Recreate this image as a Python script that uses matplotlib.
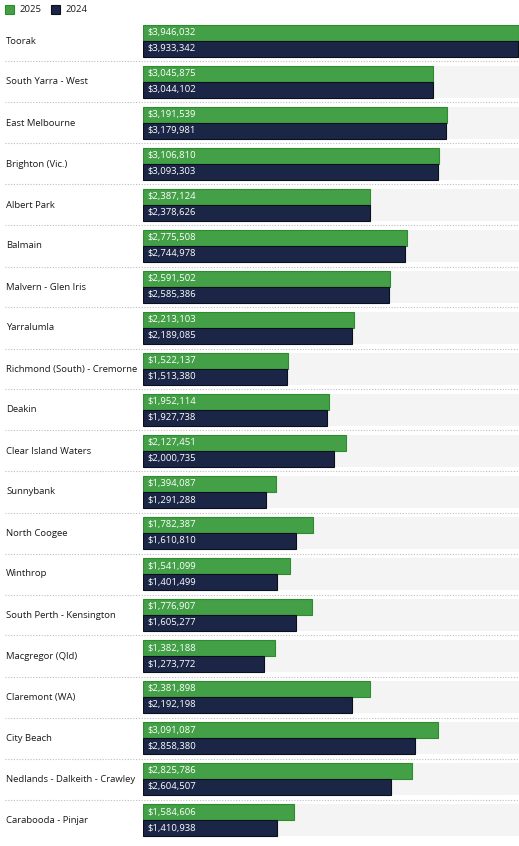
import matplotlib
matplotlib.use("Agg")
import matplotlib.pyplot as plt
from matplotlib.patches import Rectangle
from matplotlib.lines import Line2D

suburbs = ["Toorak", "South Yarra - West", "East Melbourne", "Brighton (Vic.)", "Albert Park",
           "Balmain", "Malvern - Glen Iris", "Yarralumla", "Richmond (South) - Cremorne", "Deakin",
           "Clear Island Waters", "Sunnybank", "North Coogee", "Winthrop", "South Perth - Kensington",
           "Macgregor (Qld)", "Claremont (WA)", "City Beach", "Nedlands - Dalkeith - Crawley",
           "Carabooda - Pinjar"]
v2025 = [3946032, 3045875, 3191539, 3106810, 2387124, 2775508, 2591502, 2213103, 1522137, 1952114,
         2127451, 1394087, 1782387, 1541099, 1776907, 1382188, 2381898, 3091087, 2825786, 1584606]
v2024 = [3933342, 3044102, 3179981, 3093303, 2378626, 2744978, 2585386, 2189085, 1513380, 1927738,
         2000735, 1291288, 1610810, 1401499, 1605277, 1273772, 2192198, 2858380, 2604507, 1410938]
series_names = ["2025", "2024"]

W, H = 519, 846
fig = plt.figure(figsize=(W / 100, H / 100), dpi=100)
fig.patch.set_facecolor("white")

green = "#43a047"
green_edge = "#2e8b2e"
navy = "#1b2646"
navy_edge = "#0a0f1e"
grey = "#f4f4f4"
font = "Open Sans"

top_px, bot_px = 20.5, 840.5
ax = fig.add_axes([143 / W, 1 - bot_px / H, 1 - 143 / W, (bot_px - top_px) / H])
xmax = max(max(v2025), max(v2024))
n = len(suburbs)
ax.set_xlim(0, xmax)
ax.set_ylim(n - 0.5, -0.5)
ax.axis("off")

bh = 16 / 41
for i, (a, b) in enumerate(zip(v2025, v2024)):
    ax.add_patch(Rectangle((0, i - bh), xmax, 2 * bh, facecolor=grey, edgecolor="none", zorder=0))
ax.barh([i - bh / 2 for i in range(n)], v2025, height=bh, color=green, edgecolor=green_edge,
        linewidth=0.8, zorder=2)
ax.barh([i + bh / 2 for i in range(n)], v2024, height=bh, color=navy, edgecolor=navy_edge,
        linewidth=0.8, zorder=2)
for i, (a, b) in enumerate(zip(v2025, v2024)):
    ax.text(xmax * 0.012, i - bh / 2, f"${a:,}", color="white", fontsize=6.8, va="center",
            ha="left", family=font, zorder=3)
    ax.text(xmax * 0.012, i + bh / 2, f"${b:,}", color="white", fontsize=6.8, va="center",
            ha="left", family=font, zorder=3)

# labels and separators
for i, name in enumerate(suburbs):
    yc = 1 - (top_px + 41 * i + 20.5) / H
    fig.text(6 / W, yc, name, fontsize=6.8, va="center", ha="left", color="#1a1a1a", family=font)
    if i < n - 1:
        ys = 1 - (top_px + 41 * (i + 1)) / H
        fig.add_artist(Line2D([5 / W, 1], [ys, ys], transform=fig.transFigure, color="#bdbdbd",
                              linewidth=0.8, linestyle=(0, (1, 1.5))))

# legend
for x0, col, ec, lab in [(5, green, green_edge, series_names[0]), (51, navy, navy_edge, series_names[1])]:
    fig.add_artist(Rectangle((x0 / W, 1 - 14 / H), 9 / W, 9 / H, transform=fig.transFigure,
                             facecolor=col, edgecolor=ec, linewidth=0.8))
    fig.text((x0 + 15) / W, 1 - 9.5 / H, lab, fontsize=6.8, va="center", ha="left",
             color="#1a1a1a", family=font)

fig.savefig("out.png", dpi=100, facecolor="white")
